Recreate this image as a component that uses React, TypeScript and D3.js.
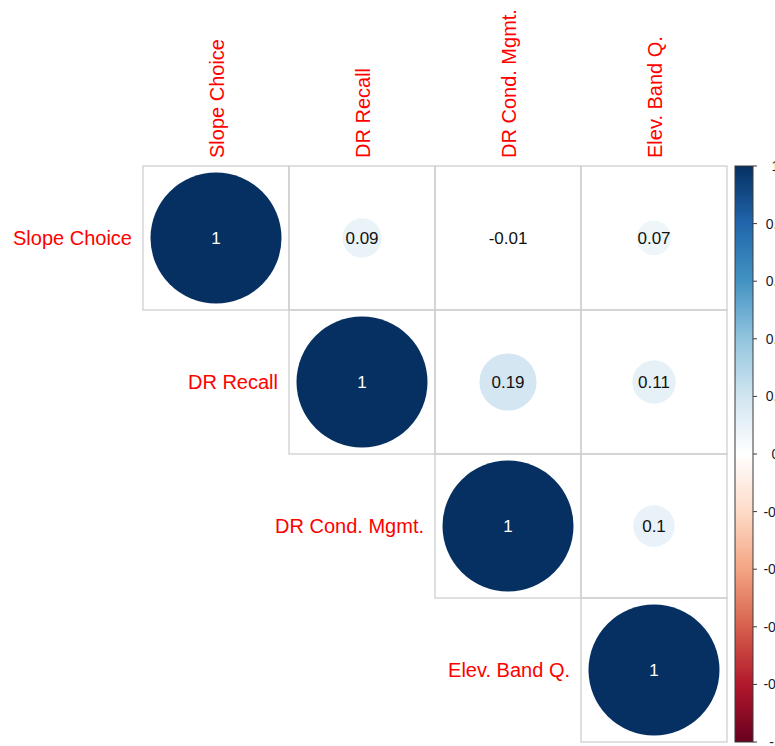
import React from "react";
import * as d3 from "d3";

const variables = ["Slope Choice", "DR Recall", "DR Cond. Mgmt.", "Elev. Band Q."];
const row0 = [1, 0.09, -0.01, 0.07];
const row1 = [0.09, 1, 0.19, 0.11];
const row2 = [-0.01, 0.19, 1, 0.1];
const row3 = [0.07, 0.11, 0.1, 1];
const corr = [row0, row1, row2, row3];

const paletteStops = [-1, -0.8, -0.6, -0.4, -0.2, 0, 0.2, 0.4, 0.6, 0.8, 1];
const paletteColors = [
  "#67001F", "#B2182B", "#D6604D", "#F4A582", "#FDDBC7", "#FFFFFF",
  "#D1E5F0", "#92C5DE", "#4393C3", "#2166AC", "#053061",
];
const legendTicks = [1, 0.8, 0.6, 0.4, 0.2, 0, -0.2, -0.4, -0.6, -0.8, -1];

const W = 775;
const H = 746;
const FONT = "Liberation Sans, Arial, sans-serif";

export default function App() {
  const gridLeft = 143, gridRight = 727, gridTop = 166, gridBottom = 742;
  const x = d3.scaleBand<number>().domain(d3.range(variables.length)).range([gridLeft, gridRight]);
  const y = d3.scaleBand<number>().domain(d3.range(variables.length)).range([gridTop, gridBottom]);
  const color = d3.scaleLinear<string>().domain(paletteStops).range(paletteColors).interpolate(d3.interpolateRgb);
  const radius = d3.scaleSqrt().domain([0, 1]).range([0, 65.5]);

  const barX0 = 735, barX1 = 753;
  const barY = d3.scaleLinear().domain([-1, 1]).range([gridBottom, gridTop]);
  const gradStops = d3.range(0, 101).map((i) => i / 100);

  const cells: { i: number; j: number; v: number }[] = [];
  corr.forEach((row, i) => row.forEach((v, j) => { if (j >= i) cells.push({ i, j, v }); }));

  return (
    <svg width={W} height={H} style={{ position: "absolute", left: 0, top: 0, background: "#fff" }}>
      <defs>
        <linearGradient id="cbar" x1="0" y1="1" x2="0" y2="0">
          {gradStops.map((t) => (
            <stop key={t} offset={t} stopColor={color(-1 + 2 * t)} />
          ))}
        </linearGradient>
      </defs>
      <rect x={0} y={0} width={W} height={H} fill="#fff" />
      {/* grid cells */}
      {cells.map((c) => (
        <rect key={`g${c.i}-${c.j}`} x={x(c.j)} y={y(c.i)} width={x.bandwidth()} height={y.bandwidth()}
          fill="none" stroke="#cfcfcf" strokeWidth={1.3} />
      ))}
      {/* circles */}
      {cells.map((c) => (
        <circle key={`c${c.i}-${c.j}`} cx={x(c.j)! + x.bandwidth() / 2} cy={y(c.i)! + y.bandwidth() / 2}
          r={radius(Math.abs(c.v))} fill={color(c.v)} />
      ))}
      {/* numbers */}
      {cells.map((c) => (
        <text key={`t${c.i}-${c.j}`} x={x(c.j)! + x.bandwidth() / 2} y={y(c.i)! + y.bandwidth() / 2}
          dy="0.35em" textAnchor="middle" fontFamily={FONT} fontSize={17}
          fill={Math.abs(c.v) > 0.5 ? "#ffffff" : "#111111"}>
          {String(c.v)}
        </text>
      ))}
      {/* row labels */}
      {variables.map((name, i) => (
        <text key={`r${i}`} x={x(i)! - 11} y={y(i)! + y.bandwidth() / 2} dy="0.35em"
          textAnchor="end" fontFamily={FONT} fontSize={20} fill="#ff0000">{name}</text>
      ))}
      {/* column labels */}
      {variables.map((name, j) => {
        const cx = x(j)! + x.bandwidth() / 2 + 1;
        const by = gridTop - 8;
        return (
          <text key={`col${j}`} transform={`translate(${cx},${by}) rotate(-90)`} dy="0.35em"
            textAnchor="start" fontFamily={FONT} fontSize={20} fill="#ff0000">{name}</text>
        );
      })}
      {/* color bar */}
      <rect x={barX0} y={gridTop} width={barX1 - barX0} height={gridBottom - gridTop}
        fill="url(#cbar)" stroke="#3a3a3a" strokeWidth={1} />
      {legendTicks.map((t) => (
        <g key={`lt${t}`}>
          <line x1={barX1} x2={barX1 + 4} y1={barY(t)} y2={barY(t)} stroke="#3a3a3a" strokeWidth={1} />
          <text x={775.5} y={barY(t)} dy="0.35em" textAnchor="middle" fontFamily={FONT}
            fontSize={14} fill="#1a1a2e">{String(t)}</text>
        </g>
      ))}
    </svg>
  );
}
